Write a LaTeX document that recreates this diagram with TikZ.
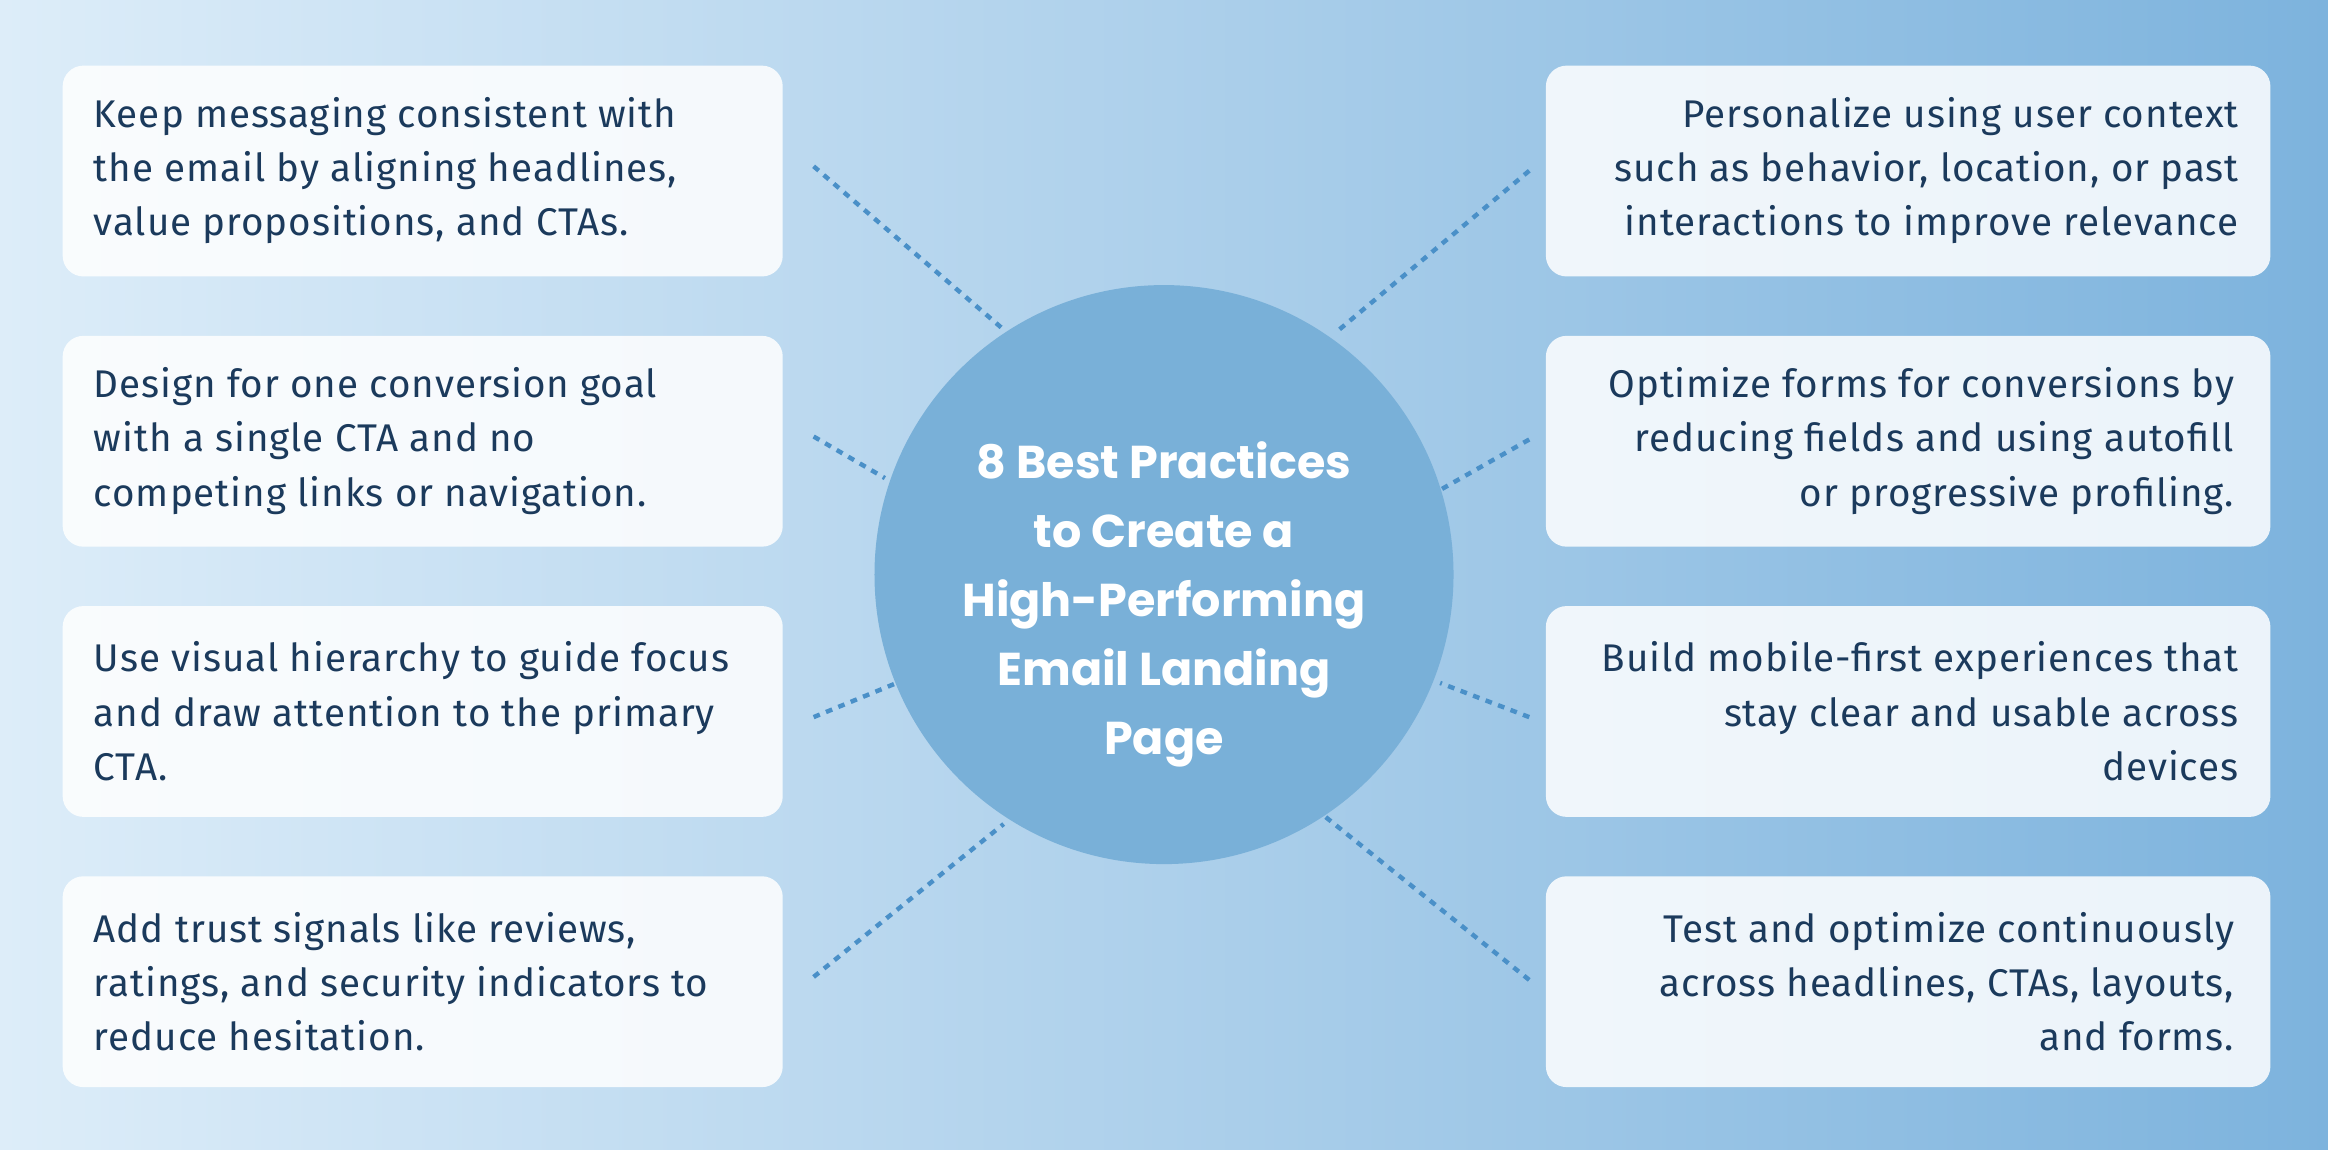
\documentclass[tikz,border=0pt]{standalone}
\usepackage{fontspec}
\setmainfont{Fira Sans}[LetterSpace=2.5]
\newfontfamily\titlefont{Poppins}
\begin{document}
\begin{tikzpicture}[x=1pt,y=-1pt,
  box/.style={fill=white,fill opacity=0.85,text opacity=1,rounded corners=14pt,minimum height=142pt,anchor=north west,inner sep=0pt},
  txt/.style={text=navy,font=\fontsize{26}{36.5}\selectfont,inner sep=0pt},
  dot/.style={draw=lineblue,line width=3pt,dash pattern=on 4.5pt off 4.5pt}]
\definecolor{navy}{HTML}{1B3A5C}
\definecolor{lineblue}{HTML}{4A90C8}
\definecolor{bgl}{HTML}{DDEDF9}
\definecolor{bgr}{HTML}{7DB3DD}
\definecolor{circ}{HTML}{79B0D8}
\shade[left color=bgl,right color=bgr] (0,0) rectangle (1568,774);
\useasboundingbox (0,0) rectangle (1568,774);
% boxes
\foreach \n/\y in {l1/44,l2/226,l3/408,l4/590}{
  \node[box,minimum width=485pt] (\n) at (42,\y) {};}
\foreach \n/\y in {r1/44,r2/226,r3/408,r4/590}{
  \node[box,minimum width=488pt] (\n) at (1041,\y) {};}
% texts
\node[txt,align=left,anchor=west] (tl1) at (63,115) {Keep messaging consistent with\\the email by aligning headlines,\\value propositions, and CTAs.};
\node[txt,align=left,anchor=west] (tl2) at (63,297) {Design for one conversion goal\\with a single CTA and no\\competing links or navigation.};
\node[txt,align=left,anchor=west] (tl3) at (63,479) {Use visual hierarchy to guide focus\\and draw attention to the primary\\CTA.};
\node[txt,align=left,anchor=west] (tl4) at (63,661) {Add trust signals like reviews,\\ratings, and security indicators to\\reduce hesitation.};
\node[txt,align=right,anchor=east] (tr1) at (1508,115) {Personalize using user context\\such as behavior, location, or past\\interactions to improve relevance};
\node[txt,align=right,anchor=east] (tr2) at (1505,297) {Optimize forms for conversions by\\reducing fields and using autofill\\or progressive profiling.};
\node[txt,align=right,anchor=east] (tr3) at (1508,479) {Build mobile-first experiences that\\stay clear and usable across\\devices};
\node[txt,align=right,anchor=east] (tr4) at (1505,661) {Test and optimize continuously\\across headlines, CTAs, layouts,\\and forms.};
% circle
\node[circle,fill=circ,minimum size=390pt,inner sep=0pt] (c) at (784,387) {};
\node[text=white,font=\titlefont\fontsize{31}{46.5}\selectfont\bfseries,align=center] (t) at (784,407) {8 Best Practices\\to Create a\\High-Performing\\Email Landing\\Page};
% connectors
\foreach \n/\a/\b/\c/\d in {a1/548/112/676/222, a2/548/294/596/322, a3/548/483/604/460, a4/548/658/676/555,
  b1/1030/115/902/222, b2/1030/296/970/330, b3/1030/483/970/460, b4/1030/660/890/548}{
  \coordinate (\n s) at (\a,\b); \coordinate (\n e) at (\c,\d);
  \draw[dot] (\n s) -- (\n e);}
\end{tikzpicture}
\end{document}
